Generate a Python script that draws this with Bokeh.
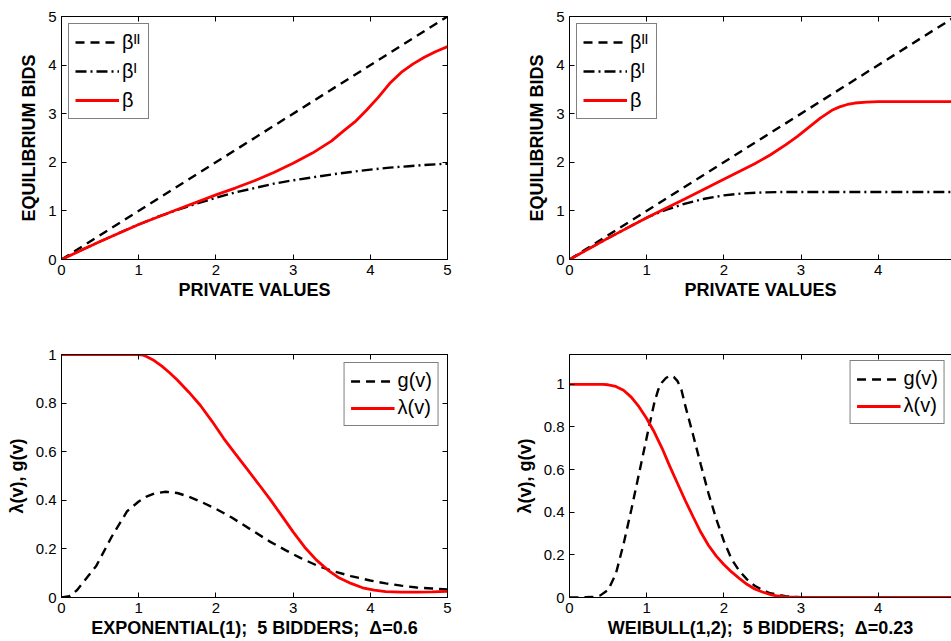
from bokeh.plotting import figure
from bokeh.models import Range1d, LinearAxis, FixedTicker, Legend, LegendItem
from bokeh.layouts import row, column
from bokeh.embed import file_html
from bokeh.resources import INLINE

# ---------------- data ----------------
# Top-left: Exponential(1) equilibrium bids
exp_bII_v = [0, 5]
exp_bII = [0, 5]
exp_bI_v = [0, 0.25, 0.5, 0.75, 1, 1.25, 1.5, 1.75, 2, 2.25, 2.5, 2.75, 3, 3.25, 3.5, 3.75, 4, 4.25, 4.5, 4.75, 5]
exp_bI = [0, 0.19, 0.37, 0.55, 0.72, 0.88, 1.02, 1.15, 1.27, 1.38, 1.47, 1.56, 1.63, 1.69, 1.75, 1.80, 1.85, 1.89, 1.92, 1.95, 1.97]
exp_b_v = [0, 0.5, 1, 1.5, 2, 2.25, 2.5, 2.75, 3, 3.25, 3.5, 3.65, 3.8, 3.95, 4.1, 4.25, 4.4, 4.55, 4.7, 4.85, 5]
exp_b = [0, 0.37, 0.72, 1.03, 1.33, 1.47, 1.62, 1.79, 1.98, 2.19, 2.44, 2.64, 2.83, 3.07, 3.33, 3.62, 3.85, 4.02, 4.16, 4.28, 4.38]

# Top-right: Weibull(1,2) equilibrium bids
wb_bII_v = [0, 5]
wb_bII = [0, 5]
wb_bI_v = [0, 0.5, 1, 1.1, 1.25, 1.4, 1.5, 1.75, 2, 2.25, 2.5, 2.75, 3, 5]
wb_bI = [0, 0.44, 0.86, 0.93, 1.02, 1.10, 1.15, 1.25, 1.32, 1.36, 1.38, 1.39, 1.39, 1.39]
wb_b_v = [0, 0.5, 1, 1.5, 2, 2.4, 2.6, 2.8, 2.95, 3.1, 3.25, 3.4, 3.5, 3.6, 3.7, 3.85, 4, 5]
wb_b = [0, 0.44, 0.86, 1.25, 1.65, 1.97, 2.15, 2.36, 2.53, 2.72, 2.91, 3.07, 3.14, 3.19, 3.22, 3.24, 3.25, 3.25]

# Bottom-left: Exponential(1) lambda(v), g(v)
exp_g_v = [0, 0.1, 0.2, 0.3, 0.45, 0.65, 0.85, 1.0, 1.1, 1.2, 1.35, 1.5, 1.65, 1.8, 2.0, 2.2, 2.35, 2.5, 2.7, 2.9,
           3.1, 3.3, 3.5, 3.75, 4.0, 4.2, 4.4, 4.6, 4.8, 5]
exp_g = [0, 0.005, 0.03, 0.07, 0.13, 0.25, 0.355, 0.395, 0.415, 0.428, 0.435, 0.43, 0.415, 0.395, 0.365, 0.33, 0.30,
         0.27, 0.23, 0.195, 0.162, 0.133, 0.11, 0.088, 0.07, 0.058, 0.049, 0.041, 0.037, 0.033]
exp_lam_v = [0, 1, 1.05, 1.1, 1.2, 1.3, 1.4, 1.5, 1.65, 1.8, 1.95, 2.1, 2.25, 2.4, 2.55, 2.7, 2.85, 3, 3.15, 3.3,
             3.45, 3.6, 3.75, 3.9, 4.05, 4.2, 4.4, 4.6, 4.8, 5]
exp_lam = [1, 1, 0.998, 0.992, 0.975, 0.952, 0.925, 0.895, 0.845, 0.79, 0.725, 0.655, 0.592, 0.53, 0.468, 0.405, 0.338,
           0.27, 0.207, 0.155, 0.113, 0.08, 0.058, 0.04, 0.03, 0.024, 0.022, 0.022, 0.023, 0.025]

# Bottom-right: Weibull(1,2) lambda(v), g(v)
wb_g_v = [0, 0.3, 0.4, 0.5, 0.6, 0.7, 0.8, 0.9, 1.0, 1.1, 1.15, 1.2, 1.25, 1.3, 1.35, 1.4, 1.45, 1.5, 1.6, 1.7, 1.8,
          1.9, 2.0, 2.1, 2.2, 2.3, 2.4, 2.5, 2.6, 2.8, 3, 5]
wb_g = [0, 0.002, 0.01, 0.035, 0.11, 0.25, 0.41, 0.58, 0.75, 0.915, 0.975, 1.01, 1.03, 1.04, 1.035, 1.015, 0.975, 0.9,
        0.765, 0.625, 0.49, 0.37, 0.265, 0.18, 0.125, 0.085, 0.055, 0.035, 0.02, 0.006, 0.001, 0]
wb_lam_v = [0, 0.3, 0.43, 0.5, 0.6, 0.7, 0.8, 0.9, 1.0, 1.1, 1.2, 1.3, 1.4, 1.5, 1.6, 1.7, 1.8, 1.9, 2.0, 2.1, 2.2,
            2.3, 2.4, 2.5, 2.6, 2.7, 2.8, 3, 5]
wb_lam = [1, 1, 1, 0.998, 0.99, 0.972, 0.94, 0.895, 0.84, 0.775, 0.70, 0.615, 0.535, 0.455, 0.38, 0.307, 0.245, 0.195,
          0.155, 0.12, 0.09, 0.062, 0.04, 0.026, 0.014, 0.007, 0.003, 0, 0]

# ticks and labels
x_ticks = [0, 1, 2, 3, 4, 5]
x_tick_labels = ["0", "1", "2", "3", "4", "5"]
bid_ticks = [0, 1, 2, 3, 4, 5]
bid_tick_labels = ["0", "1", "2", "3", "4", "5"]
dens_ticks = [0, 0.2, 0.4, 0.6, 0.8, 1]
dens_tick_labels = ["0", "0.2", "0.4", "0.6", "0.8", "1"]

bid_xlabel = "PRIVATE VALUES"
bid_ylabel = "EQUILIBRIUM BIDS"
dens_ylabel = "λ(v), g(v)"
exp_title = "EXPONENTIAL(1);\u00a0 5 BIDDERS;\u00a0 Δ=0.6"
wb_title = "WEIBULL(1,2);\u00a0 5 BIDDERS;\u00a0 Δ=0.23"
bid_legend = ["βᴵᴵ", "βᴵ", "β"]
dens_legend = ["g(v)", "λ(v)"]

FONT = "Liberation Sans"
RED = "#ff0000"
BLACK_W = 2.4
RED_W = 2.8


def style_axis(ax, ticks, labels, show_labels=True):
    ax.ticker = FixedTicker(ticks=ticks)
    ax.major_tick_in = 5
    ax.major_tick_out = 0
    ax.minor_tick_line_color = None
    ax.axis_line_color = "black"
    ax.major_tick_line_color = "black"
    ax.major_label_text_font = FONT
    ax.major_label_text_color = "black"
    ax.major_label_text_font_size = "15px"
    if show_labels:
        ax.major_label_overrides = {t: l for t, l in zip(ticks, labels)}
    else:
        ax.major_label_overrides = {t: "" for t in ticks}
        ax.major_label_standoff = 0


def make_fig(x_end, y_end, yticks, ylabels, xlabel, ylabel, frame_w, frame_h,
             mb_left, mb_right, mb_top, mb_bottom, right_side=True):
    p = figure(x_range=Range1d(0, x_end), y_range=Range1d(0, y_end),
               frame_width=frame_w, frame_height=frame_h,
               min_border_left=mb_left, min_border_right=mb_right,
               min_border_top=mb_top, min_border_bottom=mb_bottom,
               output_backend="svg", toolbar_location=None,
               background_fill_color="white", border_fill_color="white")
    p.grid.visible = False
    p.outline_line_color = "black" if right_side else None
    style_axis(p.xaxis[0], x_ticks, x_tick_labels)
    style_axis(p.yaxis[0], yticks, ylabels)
    p.xaxis[0].major_label_standoff = 5
    p.yaxis[0].major_label_standoff = 5
    p.xaxis[0].axis_label = xlabel
    p.yaxis[0].axis_label = ylabel
    for ax in (p.xaxis[0], p.yaxis[0]):
        ax.axis_label_text_font = FONT
        ax.axis_label_text_font_style = "bold"
        ax.axis_label_text_color = "black"
        ax.axis_label_text_font_size = "18px"
    p.xaxis[0].axis_label_standoff = 2
    p.yaxis[0].axis_label_standoff = 6
    top = LinearAxis()
    style_axis(top, x_ticks, x_tick_labels, show_labels=False)
    p.add_layout(top, "above")
    if right_side:
        rgt = LinearAxis()
        style_axis(rgt, yticks, ylabels, show_labels=False)
        p.add_layout(rgt, "right")
    return p


def add_legend(p, items, loc, margin, label_h, spacing, padding):
    leg = Legend(items=items, location=loc, margin=margin,
                 label_text_font=FONT, label_text_font_size="20px",
                 label_text_color="black", label_height=label_h,
                 glyph_height=label_h, glyph_width=44, label_standoff=3,
                 spacing=spacing, padding=padding,
                 border_line_color="black", border_line_width=1.2,
                 background_fill_color="white", background_fill_alpha=1.0)
    p.add_layout(leg, "center")


X_END_RIGHT = 4.95

# ---- top-left
p1 = make_fig(5, 5, bid_ticks, bid_tick_labels, bid_xlabel, bid_ylabel,
              386, 243, 61, 62, 16, 50)
r1 = p1.line(exp_bII_v, exp_bII, line_color="black", line_width=BLACK_W, line_dash="9 6")
r2 = p1.line(exp_bI_v, exp_bI, line_color="black", line_width=BLACK_W, line_dash="11 4 2 4")
r3 = p1.line(exp_b_v, exp_b, line_color=RED, line_width=RED_W)
add_legend(p1, [LegendItem(label=bid_legend[0], renderers=[r1]),
                LegendItem(label=bid_legend[1], renderers=[r2]),
                LegendItem(label=bid_legend[2], renderers=[r3])],
           "top_left", 7, 24, 5, 6)

# ---- top-right
p2 = make_fig(X_END_RIGHT, 5, bid_ticks, bid_tick_labels, bid_xlabel, bid_ylabel,
              382, 243, 60, 0, 16, 50, right_side=False)
s1 = p2.line(wb_bII_v, wb_bII, line_color="black", line_width=BLACK_W, line_dash="9 6")
s2 = p2.line(wb_bI_v, wb_bI, line_color="black", line_width=BLACK_W, line_dash="11 4 2 4")
s3 = p2.line(wb_b_v, wb_b, line_color=RED, line_width=RED_W)
add_legend(p2, [LegendItem(label=bid_legend[0], renderers=[s1]),
                LegendItem(label=bid_legend[1], renderers=[s2]),
                LegendItem(label=bid_legend[2], renderers=[s3])],
           "top_left", 7, 24, 5, 6)

# ---- bottom-left
p3 = make_fig(5, 1, dens_ticks, dens_tick_labels, exp_title, dens_ylabel,
              386, 243, 61, 62, 45, 44)
t1 = p3.line(exp_g_v, exp_g, line_color="black", line_width=BLACK_W, line_dash="9 6")
t2 = p3.line(exp_lam_v, exp_lam, line_color=RED, line_width=RED_W)
add_legend(p3, [LegendItem(label=dens_legend[0], renderers=[t1]),
                LegendItem(label=dens_legend[1], renderers=[t2])],
           "top_right", 8, 22, 4, 6)

# ---- bottom-right
p4 = make_fig(X_END_RIGHT, 1.14, dens_ticks, dens_tick_labels, wb_title, dens_ylabel,
              382, 243, 60, 0, 45, 44, right_side=False)
u1 = p4.line(wb_g_v, wb_g, line_color="black", line_width=BLACK_W, line_dash="9 6")
u2 = p4.line(wb_lam_v, wb_lam, line_color=RED, line_width=RED_W)
add_legend(p4, [LegendItem(label=dens_legend[0], renderers=[u1]),
                LegendItem(label=dens_legend[1], renderers=[u2])],
           "top_right", 6, 22, 4, 6)

layout = column(row(p1, p2, spacing=0), row(p3, p4, spacing=0), spacing=0)

open("out.html", "w").write(file_html(layout, INLINE))
